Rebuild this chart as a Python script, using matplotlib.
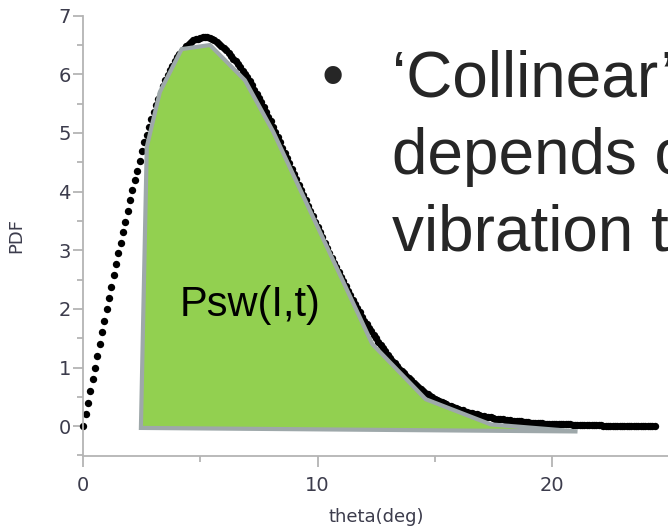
import numpy as np
import matplotlib
matplotlib.use("Agg")
import matplotlib.pyplot as plt
from matplotlib.ticker import MultipleLocator

# ---- data ----
theta_step = 0.1
pdf_values = [
    0.00, 0.20, 0.40, 0.60, 0.80, 1.00, 1.20, 1.40, 1.60, 1.80,
    2.00, 2.19, 2.38, 2.57, 2.76, 2.95, 3.13, 3.31, 3.49, 3.67,
    3.85, 4.02, 4.19, 4.36, 4.53, 4.70, 4.84, 4.97, 5.10, 5.23,
    5.35, 5.47, 5.58, 5.69, 5.80, 5.90, 5.99, 6.07, 6.15, 6.23,
    6.30, 6.35, 6.40, 6.44, 6.48, 6.52, 6.55, 6.58, 6.60, 6.61,
    6.62, 6.63, 6.63, 6.63, 6.62, 6.60, 6.58, 6.55, 6.52, 6.49,
    6.45, 6.41, 6.36, 6.32, 6.27, 6.22, 6.17, 6.12, 6.06, 6.01,
    5.95, 5.88, 5.81, 5.74, 5.67, 5.60, 5.52, 5.44, 5.36, 5.28,
    5.20, 5.11, 5.02, 4.93, 4.84, 4.75, 4.66, 4.57, 4.48, 4.39,
    4.30, 4.21, 4.12, 4.03, 3.94, 3.85, 3.76, 3.67, 3.58, 3.49,
    3.40, 3.31, 3.22, 3.13, 3.04, 2.95, 2.87, 2.79, 2.71, 2.63,
    2.55, 2.47, 2.39, 2.31, 2.23, 2.15, 2.08, 2.01, 1.94, 1.87,
    1.80, 1.74, 1.68, 1.62, 1.56, 1.50, 1.44, 1.39, 1.33, 1.28,
    1.22, 1.17, 1.12, 1.07, 1.03, 0.98, 0.94, 0.90, 0.86, 0.82,
    0.78, 0.74, 0.71, 0.67, 0.64, 0.60, 0.57, 0.55, 0.52, 0.50,
    0.47, 0.45, 0.43, 0.41, 0.39, 0.37, 0.35, 0.34, 0.32, 0.31,
    0.29, 0.28, 0.27, 0.25, 0.24, 0.23, 0.22, 0.21, 0.20, 0.19,
    0.18, 0.17, 0.16, 0.16, 0.15, 0.14, 0.13, 0.13, 0.12, 0.12,
    0.11, 0.10, 0.10, 0.09, 0.09, 0.085, 0.08, 0.08, 0.07, 0.07,
    0.065, 0.06, 0.06, 0.055, 0.055, 0.05, 0.05, 0.045, 0.045, 0.04,
    0.04, 0.04, 0.035, 0.035, 0.035, 0.03, 0.03, 0.03, 0.03, 0.025,
    0.025, 0.025, 0.02, 0.02, 0.02, 0.02, 0.02, 0.015, 0.015, 0.015,
    0.015, 0.015, 0.01, 0.01, 0.01, 0.01, 0.01, 0.01, 0.01, 0.01,
    0.01, 0.01, 0.005, 0.005, 0.005, 0.005, 0.005, 0.005, 0.005, 0.005,
    0.005, 0.005, 0.0, 0.0, 0.0,
]
theta_values = np.arange(len(pdf_values)) * theta_step

# shaded region (hand-drawn freeform) vertices
region_x = [2.46, 2.71, 3.27, 4.20, 5.41, 6.90, 8.11, 12.34, 14.62, 17.40, 21.10]
region_y = [-0.03, 4.76, 5.70, 6.43, 6.50, 5.90, 5.02, 1.40, 0.46, 0.03, -0.09]

x_ticks = [0, 10, 20]
y_ticks = [0, 1, 2, 3, 4, 5, 6, 7]
region_label = "Psw(I,t)"
bullet_lines = ["\u2018Collinear\u2019", "depends on", "vibration t"]

# ---- figure ----
W, H = 668, 528
fig = plt.figure(figsize=(W / 100, H / 100), dpi=100)
ax = fig.add_axes([83.3 / W, 1 - 455.5 / H, (668.8 - 83.3) / W, (455.5 - 15.7) / H])
ax.set_xlim(0, 25)
ax.set_ylim(-0.5, 7)

ax.plot(theta_values, pdf_values, linestyle="none", marker="o", markersize=5.3,
        color="black", markeredgewidth=0, zorder=2, clip_on=False)

ax.fill(region_x, region_y, facecolor="#92D050", edgecolor="#9EA8AA",
        linewidth=3.0, joinstyle="miter", zorder=3, clip_on=False)

ax.text(4.12, 1.88, region_label, fontsize=30, family="Liberation Sans",
        color="black", ha="left", va="baseline", zorder=4)

# axes styling
spine_col = "#B4B4B4"
for s in ["top", "right"]:
    ax.spines[s].set_visible(False)
for s in ["left", "bottom"]:
    ax.spines[s].set_color(spine_col)
    ax.spines[s].set_linewidth(1.3)

ax.set_xticks(x_ticks)
ax.set_yticks(y_ticks)
ax.xaxis.set_minor_locator(MultipleLocator(5))
ax.yaxis.set_minor_locator(MultipleLocator(0.5))
ax.tick_params(axis="both", which="both", color=spine_col, width=1.3,
               labelcolor="#3C3C4C", labelsize=14)
ax.tick_params(axis="x", which="major", length=8, pad=7)
ax.tick_params(axis="x", which="minor", length=4.5)
ax.tick_params(axis="y", which="major", length=7, pad=2)
ax.tick_params(axis="y", which="minor", length=4)

ax.set_xlabel("theta(deg)", fontsize=13, color="#3C3C4C", labelpad=9)
ax.set_ylabel("PDF", fontsize=13, color="#3C3C4C", labelpad=24)

# bullet text
txt_col = "#262626"
fig.text(322 / W, 1 - 96.7 / H, "\u2022", fontsize=46, family="Liberation Sans",
         color=txt_col, ha="left", va="baseline")
for i, line in enumerate(bullet_lines):
    fig.text(392 / W, 1 - (96.7 + 77 * i) / H, line, fontsize=46,
             family="Liberation Sans", color=txt_col, ha="left", va="baseline")

fig.savefig("out.png", dpi=100)
